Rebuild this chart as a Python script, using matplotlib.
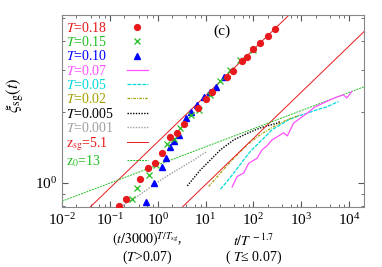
import matplotlib
matplotlib.use("Agg")
import numpy as np
import matplotlib.pyplot as plt
from matplotlib.ticker import LogLocator, NullFormatter

plt.rcParams["font.family"] = ["Liberation Serif", "DejaVu Serif"]
plt.rcParams["mathtext.fontset"] = "stix"

# T > 0.07 data, x = (t/3000)^(T/Tsg)
x18 = [0.156, 0.223, 0.42, 0.63, 0.866, 1.21, 1.80, 2.49, 3.53, 6.9, 10.0, 13.8,
       28.3, 37, 58, 74, 98.6, 135, 199, 278]
y18 = [0.80, 0.855, 1.037, 1.154, 1.21, 1.34, 1.57, 1.62, 1.77, 2.07, 2.27, 2.43,
       2.82, 2.98, 3.27, 3.43, 3.70, 3.91, 4.20, 4.49]
x15 = [0.297, 0.378, 0.66, 0.91, 1.54, 2.19, 2.87, 4.87, 7.25, 12.7, 20.5, 33, 53.6, 100]
y15 = [0.855, 0.95, 1.08, 1.19, 1.46, 1.53, 1.71, 1.94, 2.04, 2.36, 2.69, 3.01, 3.32, 3.66]
x10 = [0.56, 0.84, 1.21, 1.47, 1.80, 2.19, 2.78, 3.83, 5.03, 6.5, 9.2, 12.3, 16.2, 24]
y10 = [0.825, 1.0, 1.17, 1.27, 1.42, 1.50, 1.60, 1.88, 1.99, 2.14, 2.30, 2.42, 2.56, 2.82]

# T <= 0.07 data, x = t / T^-1.7
x07 = [36.0, 45.7, 62.8, 79.8, 119, 152, 193, 245, 336, 428, 511, 692, 953, 1315,
       1959, 2919, 4018, 5546, 7610, 8950, 11380]
y07 = [0.96, 1.063, 1.10, 1.21, 1.27, 1.38, 1.435, 1.52, 1.58, 1.63, 1.58, 1.79, 1.88,
       1.97, 2.10, 2.18, 2.25, 2.31, 2.36, 2.29, 2.44]
x05 = [20.5, 28.3, 38.9, 62.8, 86.6, 119, 178, 245, 365, 543, 813, 1315, 2120, 3430, 5990]
y05 = [0.94, 1.013, 1.10, 1.25, 1.36, 1.45, 1.57, 1.68, 1.76, 1.85, 1.91, 1.97, 2.04,
       2.10, 2.21]
x02 = [11.7, 20.5, 38.9, 74, 140, 265, 503, 953]
y02 = [0.965, 1.10, 1.27, 1.45, 1.60, 1.73, 1.85, 1.94]
x005 = [4.16, 7.87, 10.8, 20.5, 38.9, 74, 140, 312, 365]
y005 = [0.97, 1.135, 1.21, 1.38, 1.52, 1.62, 1.71, 1.79, 1.82]
x001 = [0.17, 0.378, 0.715, 1.35, 2.57, 5.7, 10.8]
y001 = [0.79, 0.875, 0.96, 1.047, 1.135, 1.25, 1.36]

# power laws
z_sg = 5.1
a_sg_hi = 1.49    # T > 0.07 collapse
a_sg_lo = 0.625   # T <= 0.07 collapse
z_0 = 13
a_0 = 1.19

fig = plt.figure(figsize=(3.82, 2.67), dpi=100)
ax = fig.add_axes([0.162, 0.225, 0.791, 0.719])

xx = np.logspace(-2, 4.5, 200)
red = "#e8191c"
green = "#22c022"

ax.plot(x18, y18, "o", color=red, ms=4.2, label=r"$T$=0.18", zorder=5)
ax.plot(x15, y15, "x", color=green, ms=4.5, mew=0.9, label=r"$T$=0.15", zorder=4)
ax.plot(x10, y10, "^", color="#0000ff", ms=3.8, label=r"$T$=0.10", zorder=3)
ax.plot(x07, y07, "-", color="#ff50ff", lw=0.9, label=r"$T$=0.07", zorder=3)
ax.plot(x05, y05, "--", color="#00d8d8", lw=0.9, dashes=(3, 1), label=r"$T$=0.05")
ax.plot(x02, y02, "-.", color="#a0a000", lw=0.9, dashes=(2, 1, 0.7, 1), label=r"$T$=0.02")
ax.plot(x005, y005, ":", color="black", lw=1.0, dashes=(1, 1), label=r"$T$=0.005")
ax.plot(x001, y001, ":", color="#a0a0a0", lw=1.0, dashes=(1, 1), label=r"$T$=0.001")
ax.plot(xx, a_sg_hi * xx ** (1 / z_sg), "-", color=red, lw=0.7,
        label=r"$\mathrm{z}_{\mathrm{sg}}$=5.1")
ax.plot(xx, a_sg_lo * xx ** (1 / z_sg), "-", color=red, lw=0.7)
ax.plot(xx, a_0 * xx ** (1 / z_0), "--", color=green, lw=0.7, dashes=(2, 1),
        label=r"$\mathrm{z}_0$=13")

ax.set_xscale("log")
ax.set_yscale("log")
ax.set_xlim(1e-2, 2.05e4)
ax.set_ylim(0.79, 5.15)

ax.xaxis.set_major_locator(LogLocator(base=10, numticks=20))
ax.xaxis.set_minor_locator(LogLocator(base=10, subs=(2, 4, 6, 8), numticks=20))
ax.xaxis.set_minor_formatter(NullFormatter())
ax.yaxis.set_major_locator(LogLocator(base=10, numticks=10))
ax.yaxis.set_minor_locator(LogLocator(base=10, subs=np.arange(2, 10), numticks=10))
ax.yaxis.set_minor_formatter(NullFormatter())
ax.tick_params(which="both", direction="in", top=True, right=True, labelsize=11,
               color="#555555")
ax.tick_params(which="major", length=4)
ax.tick_params(which="minor", length=2)
for s in ax.spines.values():
    s.set_color("#888888")

ax.text(0.53, 0.95, "(c)", transform=ax.transAxes, fontsize=11, ha="center", va="top")

fig.text(0.04, 0.645, r"$\xi_{\mathrm{sg}}(t)$", rotation=90, fontsize=12,
         ha="center", va="center")
fig.text(0.385, 0.1, r"$(t/3000)^{T/T_{\mathrm{sg}}}$,", fontsize=10, ha="center", va="center")
fig.text(0.385, 0.035, r"($T$>0.07)", fontsize=10, ha="center", va="center")
fig.text(0.665, 0.1, r"$t/T^{\,-1.7}$", fontsize=10, ha="center", va="center")
fig.text(0.665, 0.035, r"( $T$≤ 0.07)", fontsize=10, ha="center", va="center")

leg = ax.legend(loc="upper left", bbox_to_anchor=(-0.018, 1.02), markerfirst=False,
                frameon=False, fontsize=10, labelspacing=0.02, handlelength=1.5,
                handletextpad=0.9, borderpad=0.2, numpoints=1)
for txt, h in zip(leg.get_texts(), leg.legend_handles):
    txt.set_color(h.get_color())

# left-align the labels, keep the samples in one column on the right
fig.canvas.draw()
rend = fig.canvas.get_renderer()
widths = [t.get_window_extent(rend).width for t in leg.get_texts()]
wmax = max(widths)
px_per_pt = fig.dpi / 72.0
rows = []
for col in leg._legend_handle_box.get_children():
    col.align = "left"
    rows.extend(col.get_children())
for row, w in zip(rows, widths):
    row.sep = 0.9 * 10 + (wmax - w) / px_per_pt

fig.savefig("out.png", dpi=100)
